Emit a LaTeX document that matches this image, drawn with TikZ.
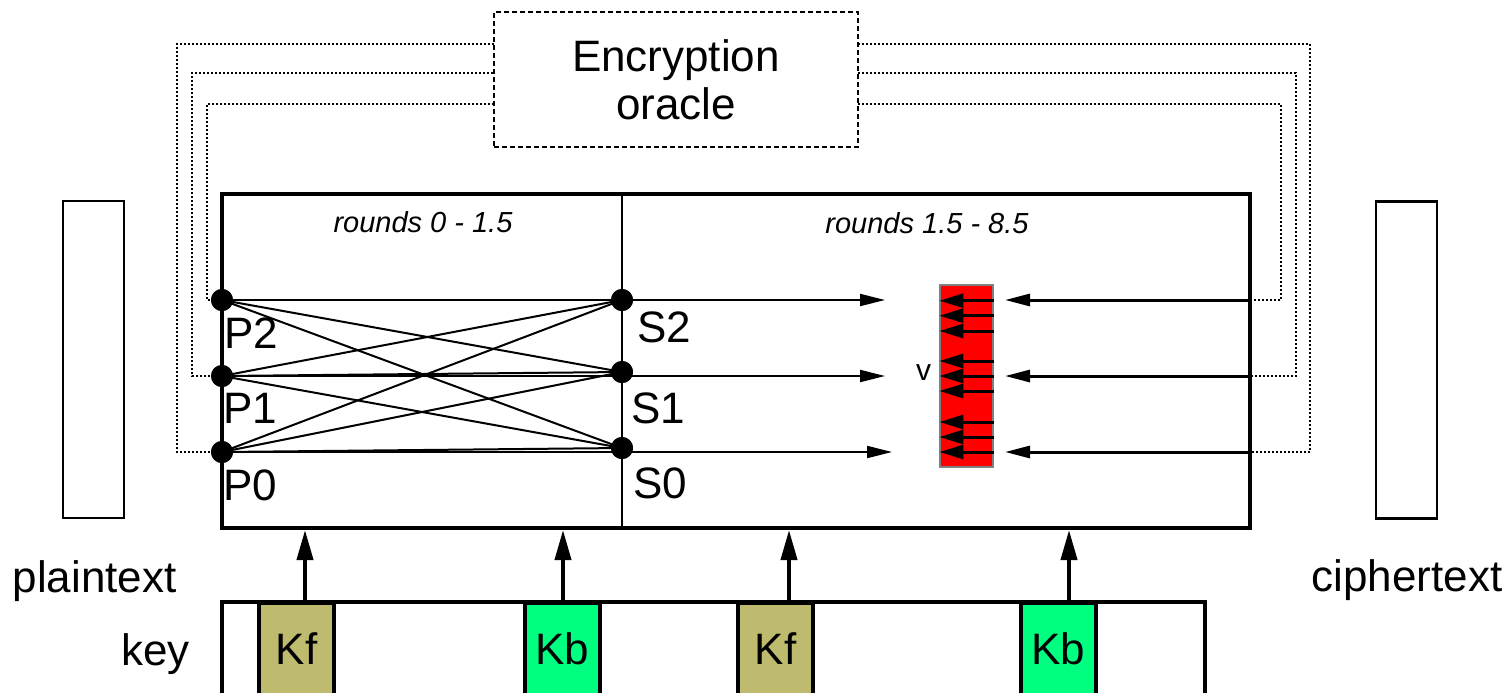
\documentclass[tikz,border=0pt]{standalone}
\usepackage{fontspec}
\setmainfont{Liberation Sans}
\usetikzlibrary{arrows.meta,positioning}
\definecolor{kfcol}{RGB}{190,186,110}
\definecolor{kbcol}{RGB}{0,255,128}
\tikzset{
  dot/.style={circle,fill=black,inner sep=0pt,minimum size=11pt},
  lbl/.style={font=\fontsize{22}{24}\selectfont,inner sep=0pt},
  rnd/.style={font=\fontsize{14.5}{16}\selectfont\itshape,inner sep=0pt},
  link/.style={line width=0.9pt,dash pattern=on 1pt off 1pt},
  flow/.style={line width=1pt,-{Triangle[length=12.5pt,width=6pt]}},
  back/.style={line width=1.5pt,-{Triangle[length=12.5pt,width=6pt]}},
  inarrow/.style={line width=1.5pt,-{Triangle[length=12pt,width=7pt]}},
  keybox/.style={draw,line width=2pt,minimum width=37.5pt,minimum height=46pt,inner sep=0pt,font=\fontsize{22}{24}\selectfont},
  keyarrow/.style={line width=2pt,-{Triangle[length=15pt,width=8pt]}},
  textbox/.style={draw,line width=1.2pt,minimum width=30.5pt,minimum height=158.5pt,inner sep=0pt}
}
\begin{document}
\begin{tikzpicture}[x=0.5pt,y=-0.5pt]
\useasboundingbox (0,0) rectangle (1509,692);
\node[draw,line width=0.8pt,dash pattern=on 2.5pt off 1.5pt,minimum width=182pt,minimum height=67.5pt,align=center,lbl] (oracle) at (676,79.5) {Encryption\\oracle};
\node[draw,line width=2pt,minimum width=514pt,minimum height=167pt,inner sep=0pt] (core) at (736,361) {};
\node[textbox] (ptbox) at (93.5,359.5) {};
\node[textbox] (ctbox) at (1406.5,360) {};
\node[lbl,anchor=base] (ptlbl) at (94.5,592) {plaintext};
\node[lbl,anchor=base] (ctlbl) at (1407,591) {ciphertext};
\node[rnd] (r1lbl) at (423,222) {rounds 0 - 1.5};
\node[rnd] (r2lbl) at (927,223) {rounds 1.5 - 8.5};

\coordinate (ol0) at (494,44);
\coordinate (ol1) at (494,73);
\coordinate (ol2) at (494,104);
\coordinate (or0) at (858,44);
\coordinate (or1) at (858,73);
\coordinate (or2) at (858,104);
\coordinate (in0) at (1250,452);
\coordinate (in1) at (1250,376);
\coordinate (in2) at (1250,300);

\node[dot] (p2) at (222,300) {};
\node[dot] (p1) at (222,376) {};
\node[dot] (p0) at (222,452) {};
\node[dot] (s2) at (622,300) {};
\node[dot] (s1) at (622,372) {};
\node[dot] (s0) at (622,448) {};
\draw[line width=1pt] (s2 |- core.north) -- (s2 |- core.south);

\draw[link] (p2.center) -| (207,104) -- (ol2);
\draw[link] (p1.center) -| (192,73) -- (ol1);
\draw[link] (p0.center) -| (177,44) -- (ol0);
\draw[link] (or2) -| (1281,300) -- (in2);
\draw[link] (or1) -| (1296,376) -- (in1);
\draw[link] (or0) -| (1310,452) -- (in0);

\foreach \i in {0,1,2}
  \foreach \j in {0,1,2}
    \draw[line width=1pt] (p\i.center) -- (s\j.center);
\node[dot] at (p2) {};
\node[dot] at (p1) {};
\node[dot] at (p0) {};
\node[dot] at (s2) {};
\node[dot] at (s1) {};
\node[dot] at (s0) {};

\node[lbl] (lp2) at (251,333) {P2};
\node[lbl] (lp1) at (250,408) {P1};
\node[lbl] (lp0) at (250,485) {P0};
\node[lbl] (ls2) at (664,327) {S2};
\node[lbl] (ls1) at (658,408) {S1};
\node[lbl] (ls0) at (660,483) {S0};

\node[draw=gray,line width=0.6pt,fill=red,minimum width=26.5pt,minimum height=91pt,inner sep=0pt] (vreg) at (966.5,376) {};
\node[inner sep=0pt,font=\fontsize{15}{16}\selectfont] (vlbl) at (923.5,373) {v};
\foreach \y in {300.7,315.7,331,361,376,391,422,437,452}
  \draw[inarrow] (vreg.east |- 0,\y) -- (vreg.west |- 0,\y);

\draw[flow] (p2.center) -- (885,300);
\draw[flow] (p1.center) -- (885,376);
\draw[flow] (p0.center) -- (892,452);
\draw[back] (in2) -- (1005,300);
\draw[back] (in1) -- (1005,376);
\draw[back] (in0) -- (1005,452);

\draw[line width=2pt] (222,602) rectangle (1205,696);
\node[lbl,anchor=base] (keylbl) at (155.5,665) {key};
\node[keybox,fill=kfcol] (kf1) at (296.5,649) {Kf};
\node[keybox,fill=kbcol] (kb1) at (562,649) {Kb};
\node[keybox,fill=kfcol] (kf2) at (775.5,649) {Kf};
\node[keybox,fill=kbcol] (kb2) at (1058,649) {Kb};
\draw[keyarrow] (kf1.north -| 305,0) -- (core.south -| 305,0);
\draw[keyarrow] (kb1.north -| 563,0) -- (core.south -| 563,0);
\draw[keyarrow] (kf2.north -| 789,0) -- (core.south -| 789,0);
\draw[keyarrow] (kb2.north -| 1069,0) -- (core.south -| 1069,0);
\end{tikzpicture}
\end{document}
